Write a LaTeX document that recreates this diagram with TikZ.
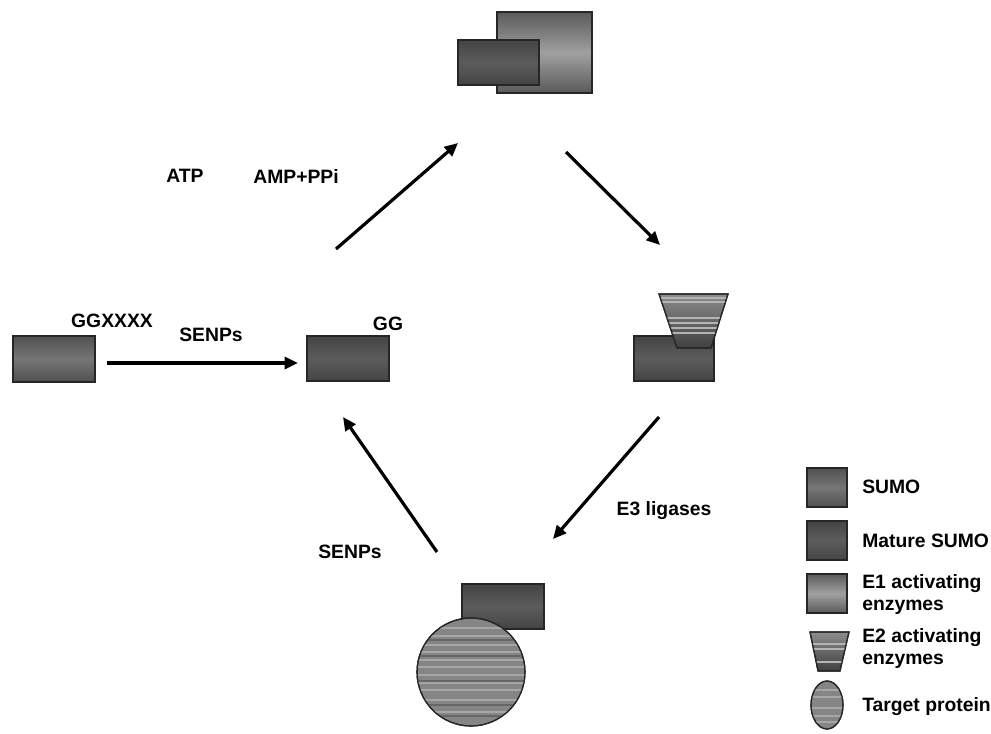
\documentclass[tikz,border=0pt]{standalone}
\usepackage{fontspec}
\setmainfont{Liberation Sans}
\usetikzlibrary{arrows.meta}

\definecolor{sumomid}{HTML}{767676}
\definecolor{sumoedge}{HTML}{505050}
\definecolor{maturemid}{HTML}{5C5C5C}
\definecolor{matureedge}{HTML}{444444}
\definecolor{eonemid}{HTML}{A0A0A0}
\definecolor{eoneedge}{HTML}{5A5A5A}
\definecolor{stripe}{HTML}{B4B4B4}

\tikzset{
  sumo/.style={draw=black!85, line width=0.9pt, top color=sumoedge, bottom color=sumoedge, middle color=sumomid},
  mature/.style={draw=black!85, line width=0.9pt, top color=matureedge, bottom color=matureedge, middle color=maturemid},
  eone/.style={draw=black!85, line width=0.9pt, top color=eoneedge, bottom color=eoneedge, middle color=eonemid},
  etwo/.style={draw=black!85, line width=0.9pt, top color=black!45, bottom color=black!75},
  target/.style={draw=black!85, line width=0.9pt, fill=black!48},
  flow/.style={line width=2.4pt, -{Triangle[length=10pt,width=9pt]}},
  txt/.style={font=\bfseries\fontsize{14.5}{16.5}\selectfont, inner sep=0pt},
}

\begin{document}
\begin{tikzpicture}[x=0.75pt, y=-0.75pt]
    \useasboundingbox (0,0) rectangle (991,733);

    % E1 activating enzyme carrying mature SUMO
    \draw[eone] (497,12) rectangle (592,93);
    \draw[mature] (458,40) rectangle (539,85);

    % precursor SUMO and mature SUMO
    \draw[sumo] (13,336) rectangle (95,382);
    \node[txt] (tail) at (112,321) {GGXXXX};
    \draw[mature] (307,336) rectangle (389,381);
    \node[txt] (gg) at (388,324) {GG};

    % E2 with SUMO
    \draw[mature] (634,336) rectangle (714,381);
    \shade[etwo] (659,294) -- (728,294) -- (711,348) -- (677,348) -- cycle;
    \begin{scope}
      \clip (659,294) -- (728,294) -- (711,348) -- (677,348) -- cycle;
      \foreach \y in {298,302,318,323,328,333}
        \draw[stripe, line width=1pt] (650,\y) -- (740,\y);
    \end{scope}
    \draw[draw=black!85, line width=0.9pt] (659,294) -- (728,294) -- (711,348) -- (677,348) -- cycle;

    % target protein with SUMO
    \draw[mature] (462,584) rectangle (544,629);
    \draw[target] (471,672) circle (54);
    \begin{scope}
      \clip (471,672) circle (54);
      \foreach \y in {628,636,645,652,660,667,675,683,690,700,712}
        \draw[black!35, line width=1.2pt] (410,\y) -- (530,\y);
      \foreach \y in {640,656,681,705,716}
        \draw[black!60, line width=1.2pt] (410,\y) -- (530,\y);
    \end{scope}
    \draw[draw=black!85, line width=0.9pt] (471,672) circle (54);

    % arrow ends
    \coordinate (s1) at (107,363);
    \coordinate (e1) at (298,363);
    \coordinate (s2) at (336,249);
    \coordinate (e2) at (458,143);
    \coordinate (s3) at (566,152);
    \coordinate (e3) at (660,245);
    \coordinate (s4) at (659,417);
    \coordinate (e4) at (553,539);
    \coordinate (s5) at (437,552);
    \coordinate (e5) at (343,417);

    \draw[flow] (s1) -- (e1);
    \draw[flow] (s2) -- (e2);
    \draw[flow] (s3) -- (e3);
    \draw[flow] (s4) -- (e4);
    \draw[flow] (s5) -- (e5);

    % labels on the cycle
    \node[txt] (senpa) at (211,335) {SENPs};
    \node[txt] (atp) at (185,176) {ATP};
    \node[txt] (amp) at (296,176) {AMP+PPi};
    \node[txt] (ligase) at (664,511) {E3 ligases};
    \node[txt] (senpb) at (350,552) {SENPs};

    % legend
    \draw[sumo] (807,468) rectangle (847,507);
    \node[txt, anchor=west] (lsumo) at (862,487) {SUMO};
    \draw[mature] (807,521) rectangle (847,560);
    \node[txt, anchor=west] (lmature) at (862,541) {Mature SUMO};
    \draw[eone] (807,574) rectangle (847,613);
    \node[txt, anchor=west, align=left] (leone) at (862,594) {E1 activating\\enzymes};
    \shade[etwo] (810,632) -- (849,632) -- (840,671) -- (818,671) -- cycle;
    \begin{scope}
      \clip (810,632) -- (849,632) -- (840,671) -- (818,671) -- cycle;
      \foreach \y in {644,649,662}
        \draw[stripe, line width=0.8pt] (805,\y) -- (855,\y);
    \end{scope}
    \draw[draw=black!85, line width=0.9pt] (810,632) -- (849,632) -- (840,671) -- (818,671) -- cycle;
    \node[txt, anchor=west, align=left] (letwo) at (862,648) {E2 activating\\enzymes};
    \draw[target] (827,705) ellipse (16 and 24);
    \begin{scope}
      \clip (827,705) ellipse (16 and 24);
      \foreach \y in {690,697,708,716,722}
        \draw[black!35, line width=0.8pt] (805,\y) -- (850,\y);
    \end{scope}
    \draw[draw=black!85, line width=0.9pt] (827,705) ellipse (16 and 24);
    \node[txt, anchor=west] (ltarget) at (862,707) {Target protein};
\end{tikzpicture}
\end{document}
